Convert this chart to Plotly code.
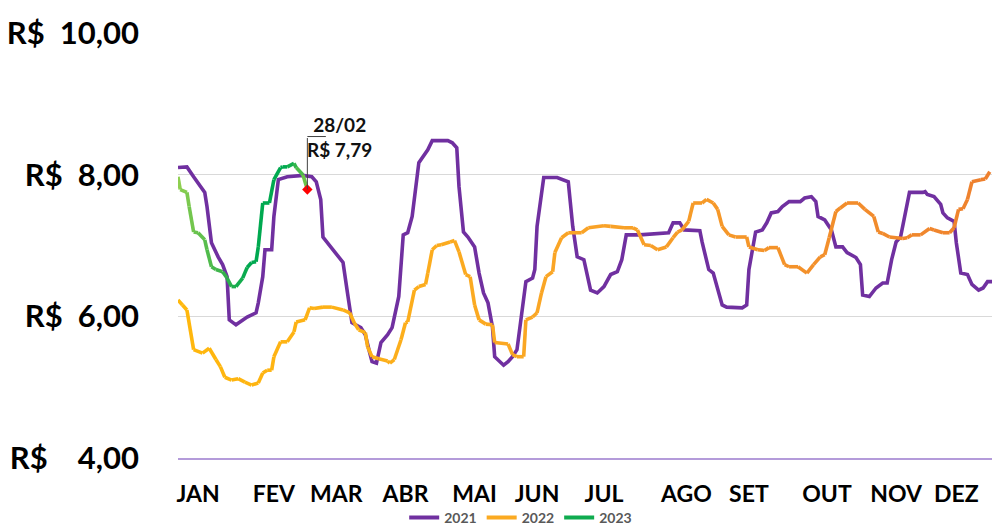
import plotly.graph_objects as go

# ---------------- data ----------------
months = ["JAN", "FEV", "MAR", "ABR", "MAI", "JUN", "JUL", "AGO", "SET", "OUT", "NOV", "DEZ"]
month_pos = [9, 43, 71, 102, 133, 161, 191, 228, 256, 291, 322, 349]

y_ticks = [4, 6, 8, 10]
y_ticktext = ["R$\u00a0\u00a0\u00a0\u00a04,00", "R$\u00a0\u00a06,00", "R$\u00a0\u00a08,00", "R$\u00a0\u00a010,00"]

days_2021 = [0, 4, 7, 9, 12, 13, 15, 18, 20, 22, 23, 26, 29, 31, 35, 36, 38, 39, 42, 43, 45, 49, 56, 60, 62,
             64, 65, 67, 70, 74, 76, 78, 82, 84, 86, 87, 89, 91, 94, 96, 99, 101, 103, 105, 108, 110, 112,
             114, 121, 123, 125, 126, 128, 130, 133, 135, 137, 139, 141, 142, 146, 148, 150, 152, 154, 156,
             159, 160, 161, 164, 170, 173, 175, 177, 179, 182, 185, 188, 191, 194, 197, 199, 201, 207, 220,
             222, 225, 227, 234, 235, 238, 240, 242, 244, 246, 253, 255, 256, 259, 262, 264, 266, 269, 271,
             274, 279, 281, 284, 286, 287, 290, 293, 295, 298, 300, 304, 306, 307, 310, 313, 316, 318, 320,
             322, 324, 326, 328, 334, 335, 336, 339, 342, 343, 345, 348, 349, 351, 354, 356, 359, 361, 363, 365]
price_2021 = [8.10, 8.11, 7.97, 7.89, 7.75, 7.55, 7.04, 6.84, 6.73, 6.56, 5.95, 5.88, 5.95, 5.99, 6.05, 6.19,
              6.56, 6.94, 6.94, 7.41, 7.93, 7.97, 7.99, 7.97, 7.90, 7.65, 7.12, 7.04, 6.94, 6.76, 6.33, 5.91,
              5.84, 5.74, 5.48, 5.36, 5.34, 5.63, 5.74, 5.84, 6.28, 7.15, 7.18, 7.41, 8.17, 8.25, 8.35, 8.48,
              8.48, 8.45, 8.38, 7.83, 7.19, 7.12, 6.98, 6.61, 6.33, 6.19, 5.85, 5.43, 5.31, 5.36, 5.43, 5.53,
              5.99, 6.49, 6.54, 6.66, 7.27, 7.96, 7.96, 7.92, 7.90, 7.27, 6.84, 6.80, 6.37, 6.33, 6.42, 6.59,
              6.63, 6.80, 7.15, 7.15, 7.18, 7.32, 7.32, 7.22, 7.21, 7.05, 6.66, 6.61, 6.37, 6.16, 6.13, 6.12,
              6.16, 6.66, 7.19, 7.22, 7.32, 7.46, 7.48, 7.55, 7.62, 7.62, 7.67, 7.69, 7.62, 7.41, 7.36, 7.22,
              6.98, 6.98, 6.90, 6.83, 6.73, 6.30, 6.28, 6.40, 6.47, 6.47, 6.80, 7.05, 7.12, 7.41, 7.75, 7.75,
              7.76, 7.72, 7.69, 7.58, 7.46, 7.39, 7.34, 7.04, 6.61, 6.59, 6.45, 6.37, 6.40, 6.49, 6.49]

days_2022 = [0, 2, 4, 7, 11, 14, 17, 19, 21, 24, 27, 30, 33, 36, 38, 40, 42, 43, 46, 49, 52, 53, 57, 59, 61,
             65, 69, 74, 77, 79, 81, 84, 85, 87, 90, 94, 95, 97, 100, 102, 103, 106, 108, 111, 112, 114, 116,
             118, 122, 124, 126, 129, 131, 133, 135, 138, 141, 142, 148, 150, 152, 155, 156, 159, 161, 163,
             165, 168, 169, 172, 175, 181, 184, 191, 194, 200, 204, 206, 209, 212, 215, 219, 222, 224, 226,
             229, 231, 235, 237, 240, 242, 244, 247, 250, 255, 256, 260, 263, 265, 269, 272, 274, 278, 282,
             285, 288, 290, 292, 295, 297, 300, 305, 308, 312, 314, 316, 319, 325, 327, 329, 333, 337, 339,
             343, 346, 348, 350, 352, 354, 356, 360, 362, 364]
price_2022 = [6.23, 6.16, 6.09, 5.53, 5.48, 5.55, 5.39, 5.29, 5.14, 5.10, 5.12, 5.07, 5.03, 5.06, 5.20, 5.24,
              5.24, 5.43, 5.64, 5.64, 5.78, 5.92, 5.95, 6.12, 6.11, 6.13, 6.13, 6.09, 6.05, 5.91, 5.81, 5.77,
              5.57, 5.43, 5.40, 5.37, 5.34, 5.39, 5.67, 5.91, 5.92, 6.37, 6.42, 6.45, 6.61, 6.94, 7.00, 7.01,
              7.05, 7.07, 6.91, 6.59, 6.56, 6.16, 5.95, 5.89, 5.88, 5.63, 5.61, 5.46, 5.43, 5.43, 5.95, 5.99,
              6.05, 6.33, 6.56, 6.63, 6.90, 7.11, 7.18, 7.18, 7.25, 7.28, 7.27, 7.25, 7.25, 7.22, 7.01, 7.00,
              6.94, 6.98, 7.11, 7.19, 7.22, 7.34, 7.60, 7.60, 7.65, 7.60, 7.51, 7.27, 7.15, 7.12, 7.12, 6.98,
              6.94, 6.93, 6.97, 6.97, 6.73, 6.70, 6.70, 6.61, 6.73, 6.84, 6.87, 7.11, 7.48, 7.53, 7.60, 7.60,
              7.51, 7.41, 7.19, 7.17, 7.12, 7.10, 7.11, 7.15, 7.15, 7.24, 7.22, 7.18, 7.18, 7.25, 7.51, 7.52,
              7.65, 7.90, 7.93, 7.94, 8.04]

days_2023 = [0, 1, 4, 5, 7, 9, 12, 13, 15, 17, 20, 22, 24, 26, 29, 31, 33, 35, 36, 38, 41, 43, 46, 47, 49,
             52, 53, 56, 58]
price_2023 = [7.97, 7.79, 7.75, 7.55, 7.19, 7.18, 7.08, 6.94, 6.70, 6.66, 6.63, 6.54, 6.42, 6.42, 6.54, 6.69,
              6.76, 6.77, 6.98, 7.60, 7.60, 7.93, 8.10, 8.11, 8.11, 8.16, 8.10, 8.00, 7.79]

last_label = "28/02<br>R$ 7,79"

# ---------------- styling ----------------
PURPLE = "#7030A0"
ORANGE_STOPS = [(0.0, (255, 184, 12)), (0.5, (250, 166, 38)), (1.0, (238, 128, 46))]
GREEN_STOPS = [(0.0, (146, 208, 80)), (0.35, (60, 180, 75)), (0.55, (0, 168, 80)),
               (0.85, (0, 170, 80)), (1.0, (120, 200, 70))]
LW = 3.6


def grad(stops, t):
    for (t0, c0), (t1, c1) in zip(stops[:-1], stops[1:]):
        if t <= t1:
            f = 0 if t1 == t0 else (t - t0) / (t1 - t0)
            c = [round(a + (b - a) * f) for a, b in zip(c0, c1)]
            return "rgb({},{},{})".format(*c)
    c = stops[-1][1]
    return "rgb({},{},{})".format(*c)


fig = go.Figure()

# 2021 solid purple
fig.add_trace(go.Scatter(x=days_2021, y=price_2021, mode="lines", showlegend=False,
                         line=dict(color=PURPLE, width=LW), hoverinfo="skip"))


def add_gradient(xs, ys, stops):
    n = len(xs) - 1
    for i in range(n):
        t = (i + 0.5) / n
        fig.add_trace(go.Scatter(x=xs[i:i + 2], y=ys[i:i + 2], mode="lines", showlegend=False,
                                 line=dict(color=grad(stops, t), width=LW), hoverinfo="skip"))


add_gradient(days_2022, price_2022, ORANGE_STOPS)
add_gradient(days_2023, price_2023, GREEN_STOPS)

# legend entries
fig.add_trace(go.Scatter(x=[None], y=[None], mode="lines", name="2021", line=dict(color=PURPLE, width=4)))
fig.add_trace(go.Scatter(x=[None], y=[None], mode="lines", name="2022",
                         line=dict(color=grad(ORANGE_STOPS, 0.4), width=4)))
fig.add_trace(go.Scatter(x=[None], y=[None], mode="lines", name="2023",
                         line=dict(color=grad(GREEN_STOPS, 0.5), width=4)))

# last point marker
lx, ly = days_2023[-1], price_2023[-1]
fig.add_trace(go.Scatter(x=[lx], y=[ly], mode="markers", showlegend=False, hoverinfo="skip",
                         marker=dict(symbol="diamond", size=8, color="#FF0000")))

# callout leader line (vertical then horizontal)
fig.add_annotation(x=lx, y=ly, text="", showarrow=True, arrowhead=0, arrowwidth=1,
                   arrowcolor="#404040", ax=0, ay=-53, axref="pixel", ayref="pixel")
fig.add_annotation(x=lx, y=ly, text="", showarrow=True, arrowhead=0, arrowwidth=1,
                   arrowcolor="#404040", ax=20, ay=0, yshift=53)
fig.add_annotation(x=lx, y=ly, text=last_label, showarrow=False, xshift=32, yshift=53,
                   font=dict(family="Lato", size=19, color="#111111", weight="bold"),
                   align="center")

fig.update_layout(
    width=992, height=525,
    margin=dict(l=178, r=0, t=33, b=67, autoexpand=False),
    paper_bgcolor="white", plot_bgcolor="white",
    showlegend=True,
    legend=dict(orientation="h", x=0.421, xanchor="center", y=-0.141, yanchor="middle",
                bgcolor="rgba(0,0,0,0)",
                font=dict(family="Lato", size=14, color="#595959", weight="bold"),
                itemwidth=30, tracegroupgap=0),
)
fig.update_xaxes(range=[0, 365], showgrid=False, zeroline=False, showline=True,
                 linecolor="#B49BDA", linewidth=1.5, ticks="", automargin=False,
                 tickmode="array", tickvals=month_pos, ticktext=months,
                 tickfont=dict(family="Lato", size=23, color="black", weight="bold"),
                 ticklabelstandoff=15, fixedrange=True)
fig.update_yaxes(range=[4, 10], showgrid=True, gridcolor="#D9D9D9", gridwidth=1, zeroline=False,
                 showline=False, ticks="", automargin=False,
                 tickmode="array", tickvals=y_ticks, ticktext=y_ticktext,
                 tickfont=dict(family="Lato", size=31, color="black", weight="bold"),
                 ticklabelstandoff=38, fixedrange=True)

fig.write_html("out.html", config={"displayModeBar": False},
               post_script="document.body.style.margin='0px';document.body.style.overflow='hidden';")
